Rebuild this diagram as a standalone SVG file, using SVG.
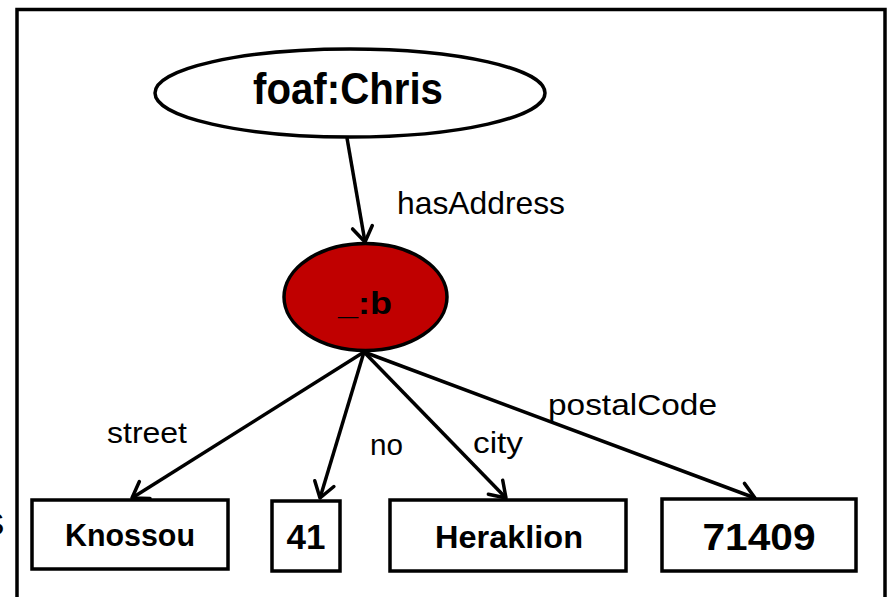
<svg xmlns="http://www.w3.org/2000/svg" width="890" height="597" viewBox="0 0 890 597">
<style>
.frame{fill:none;stroke:#000;stroke-width:3.5}
.node{stroke:#000;stroke-width:3.5}
.lit{fill:#fff;stroke:#000;stroke-width:3.5}
.edge{fill:none;stroke:#000;stroke-width:3.5}
.bold{font-family:"Liberation Sans",Arial,sans-serif;font-weight:bold;fill:#000}
.lbl{font-family:"Liberation Sans",Arial,sans-serif;fill:#000}
</style>
<defs>
<marker id="arr" markerUnits="userSpaceOnUse" markerWidth="30" markerHeight="30" viewBox="-20 -15 30 30" refX="0" refY="0" orient="auto">
<path d="M-15,-10 L0,0 L-15,10" fill="none" stroke="#000" stroke-width="3.5" stroke-linecap="round" stroke-linejoin="round"/>
</marker>
</defs>
<rect class="frame" x="17" y="9.5" width="868" height="620"/>
<text class="lbl" x="-17" y="535" font-size="32">S</text>
<g id="edges">
<line class="edge" x1="347" y1="138" x2="365" y2="242" marker-end="url(#arr)"/>
<line class="edge" x1="364" y1="352" x2="132" y2="498" marker-end="url(#arr)"/>
<line class="edge" x1="364" y1="352" x2="320" y2="498" marker-end="url(#arr)"/>
<line class="edge" x1="364" y1="352" x2="506" y2="498" marker-end="url(#arr)"/>
<line class="edge" x1="364" y1="352" x2="755" y2="498" marker-end="url(#arr)"/>
<text class="lbl" x="397" y="214" font-size="32" textLength="168" lengthAdjust="spacingAndGlyphs">hasAddress</text>
<text class="lbl" x="107" y="443" font-size="29" textLength="80" lengthAdjust="spacingAndGlyphs">street</text>
<text class="lbl" x="370" y="455" font-size="29" textLength="33" lengthAdjust="spacingAndGlyphs">no</text>
<text class="lbl" x="473" y="453" font-size="29" textLength="50" lengthAdjust="spacingAndGlyphs">city</text>
<text class="lbl" x="548" y="415" font-size="29" textLength="169" lengthAdjust="spacingAndGlyphs">postalCode</text>
</g>
<g id="chris">
<ellipse class="node" cx="350" cy="93" rx="195" ry="44" fill="#fff"/>
<text class="bold" x="348" y="104" font-size="44" text-anchor="middle" textLength="190" lengthAdjust="spacingAndGlyphs">foaf:Chris</text>
</g>
<g id="b">
<ellipse class="node" cx="365.5" cy="297" rx="81.5" ry="53.5" fill="#C00000"/>
<text class="bold" x="365" y="314" font-size="32" text-anchor="middle" textLength="54" lengthAdjust="spacingAndGlyphs">_:b</text>
</g>
<g id="knossou">
<rect class="lit" x="32" y="500" width="196" height="69"/>
<text class="bold" x="130" y="546" font-size="31" text-anchor="middle" textLength="130" lengthAdjust="spacingAndGlyphs">Knossou</text>
</g>
<g id="n41">
<rect class="lit" x="272" y="501" width="68" height="70"/>
<text class="bold" x="306" y="549" font-size="35" text-anchor="middle">41</text>
</g>
<g id="heraklion">
<rect class="lit" x="390" y="500" width="236" height="71"/>
<text class="bold" x="509" y="548" font-size="31" text-anchor="middle" textLength="148" lengthAdjust="spacingAndGlyphs">Heraklion</text>
</g>
<g id="code">
<rect class="lit" x="662" y="499" width="194" height="72"/>
<text class="bold" x="759" y="550" font-size="36" text-anchor="middle" textLength="113" lengthAdjust="spacingAndGlyphs">71409</text>
</g>
</svg>
